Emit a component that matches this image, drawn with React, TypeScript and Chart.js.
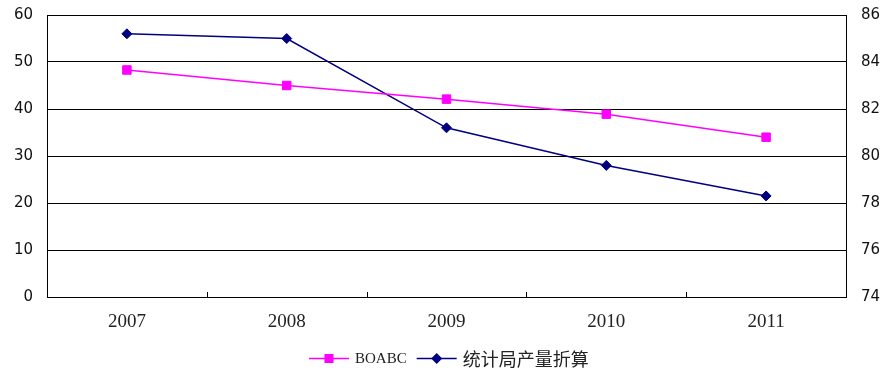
import React, { useEffect, useRef } from "react";
import { Chart, registerables } from "chart.js";

Chart.register(...registerables);

// Categories and series
const years = ["2007", "2008", "2009", "2010", "2011"];
const boabcValues = [48.3, 45.0, 42.1, 38.9, 34.0];
const bureauValues = [85.2, 85.0, 81.2, 79.6, 78.3];

const seriesNames = ["BOABC", "统计局产量折算"];
const seriesColors = ["#FF00FF", "#000080"];

// Axis ranges
const leftAxis = { min: 0, max: 60, step: 10 };
const rightAxis = { min: 74, max: 86, step: 2 };

// Short upward tick marks between categories on the bottom axis
const categoryTickPlugin = {
  id: "categoryTicks",
  afterDraw(chart: any) {
    const x = chart.scales.x;
    const { ctx, chartArea } = chart;
    ctx.save();
    ctx.strokeStyle = "#000";
    ctx.lineWidth = 1;
    for (let i = 1; i < years.length; i++) {
      const px = Math.round((x.getPixelForTick(i - 1) + x.getPixelForTick(i)) / 2) + 0.5;
      ctx.beginPath();
      ctx.moveTo(px, chartArea.bottom);
      ctx.lineTo(px, chartArea.bottom - 5);
      ctx.stroke();
    }
    ctx.restore();
  },
};

// Legend row below the axis: line with marker, then series name
const legendPlugin = {
  id: "lineLegend",
  afterDraw(chart: any) {
    const ctx = chart.ctx;
    const y = 358;
    const fonts = ["15px 'Liberation Serif', serif", "18px 'Noto Sans CJK SC', sans-serif"];
    let x = 309;
    ctx.save();
    seriesNames.forEach((name, i) => {
      const color = seriesColors[i];
      ctx.strokeStyle = color;
      ctx.lineWidth = 1.5;
      ctx.beginPath();
      ctx.moveTo(x, y + 0.5);
      ctx.lineTo(x + 40, y + 0.5);
      ctx.stroke();
      const cx = x + 20;
      ctx.fillStyle = color;
      ctx.beginPath();
      if (i === 0) {
        ctx.rect(cx - 4.5, y - 4, 9, 9);
      } else {
        ctx.moveTo(cx - 5.5, y + 0.5);
        ctx.lineTo(cx, y - 5);
        ctx.lineTo(cx + 5.5, y + 0.5);
        ctx.lineTo(cx, y + 6);
        ctx.closePath();
      }
      ctx.fill();
      ctx.font = fonts[i];
      ctx.fillStyle = "#222";
      ctx.textAlign = "left";
      ctx.textBaseline = "middle";
      ctx.fillText(name, x + 46, y + 1);
      x += 46 + ctx.measureText(name).width + 10;
    });
    ctx.restore();
  },
};

// Fixed axis widths; no extra label overflow padding above the plot
function fixVertical(width: number) {
  return (scale: any) => {
    scale.width = width;
    scale.paddingTop = 0;
    scale.paddingBottom = 0;
  };
}

export default function App() {
  const canvasRef = useRef<HTMLCanvasElement | null>(null);

  useEffect(() => {
    if (!canvasRef.current) return;
    const chart = new Chart(canvasRef.current, {
      type: "line",
      data: {
        labels: years,
        datasets: [
          {
            label: seriesNames[0],
            data: boabcValues,
            yAxisID: "y",
            borderColor: seriesColors[0],
            backgroundColor: seriesColors[0],
            borderWidth: 1.5,
            pointStyle: "rect",
            pointRadius: 6,
            pointBorderWidth: 1,
            pointBackgroundColor: seriesColors[0],
            pointBorderColor: seriesColors[0],
            tension: 0,
          },
          {
            label: seriesNames[1],
            data: bureauValues,
            yAxisID: "y1",
            borderColor: seriesColors[1],
            backgroundColor: seriesColors[1],
            borderWidth: 1.5,
            pointStyle: "rectRot",
            pointRadius: 5,
            pointBorderWidth: 1,
            pointBackgroundColor: seriesColors[1],
            pointBorderColor: seriesColors[1],
            tension: 0,
          },
        ],
      },
      options: {
        responsive: false,
        animation: false,
        layout: { padding: { top: 15, left: 0, right: 0, bottom: 0 } },
        plugins: {
          legend: { display: false },
          tooltip: { enabled: false },
        },
        scales: {
          x: {
            offset: true,
            grid: { display: false, drawTicks: false },
            border: { display: true, color: "#000", width: 1 },
            ticks: {
              padding: 14,
              color: "#222",
              font: { family: "'Liberation Serif', serif", size: 19 },
            },
            afterFit(scale: any) {
              scale.height = 74;
              scale.paddingLeft = 0;
              scale.paddingRight = 0;
            },
          },
          y: {
            position: "left",
            min: leftAxis.min,
            max: leftAxis.max,
            grid: { color: "#000", lineWidth: 1, drawTicks: false },
            border: { display: true, color: "#000", width: 1 },
            ticks: {
              stepSize: leftAxis.step,
              padding: 14,
              color: "#111",
              font: { family: "'DejaVu Sans', sans-serif", size: 15 },
            },
            afterFit: fixVertical(47),
          },
          y1: {
            position: "right",
            min: rightAxis.min,
            max: rightAxis.max,
            grid: { display: false, drawOnChartArea: false, drawTicks: false },
            border: { display: true, color: "#000", width: 1 },
            ticks: {
              stepSize: rightAxis.step,
              padding: 15,
              color: "#111",
              font: { family: "'DejaVu Sans', sans-serif", size: 15 },
            },
            afterFit: fixVertical(39),
          },
        },
      },
      plugins: [categoryTickPlugin, legendPlugin],
    });
    return () => chart.destroy();
  }, []);

  return (
    <div style={{ position: "absolute", left: 0, top: 0, width: 885, height: 371, background: "#fff" }}>
      <canvas ref={canvasRef} width={885} height={371} />
    </div>
  );
}
